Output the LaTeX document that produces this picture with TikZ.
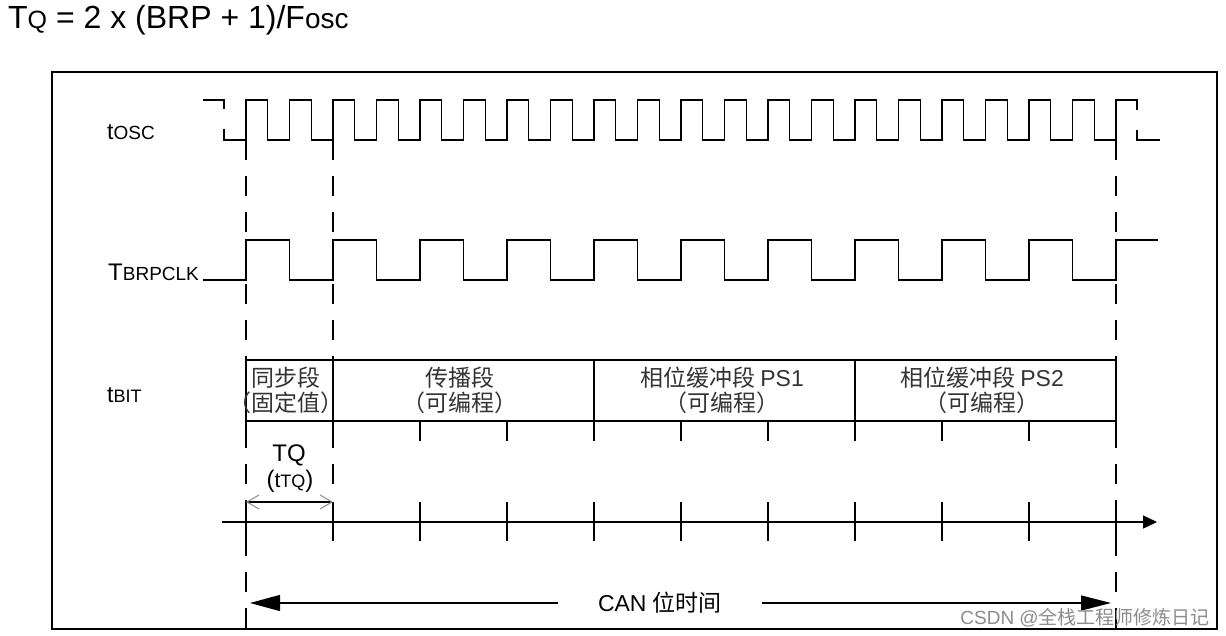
\documentclass[tikz,border=0pt]{standalone}
\usepackage{fontspec}
\setmainfont{Liberation Sans}
\newfontfamily\cjk{Noto Sans CJK SC}
\usetikzlibrary{arrows.meta}
\newcommand\fsz[1]{\fontsize{#1}{#1}\selectfont}
\begin{document}
\begin{tikzpicture}[x=1pt,y=-1pt,
  wave/.style={line width=1.4pt,line join=miter},
  thinl/.style={line width=1.3pt},
  dashl/.style={line width=1.4pt,dash pattern=on 20pt off 16pt},
  lbl/.style={anchor=base west,inner sep=0pt},
  cjkt/.style={font=\cjk\fsz{23},text=black!80,inner sep=0pt}]
\useasboundingbox (0,0) rectangle (1226,636);
\fill[white] (0,0) rectangle (1226,636);
% title
\node[lbl] (title) at (8,29) {\fsz{32}T\fsz{25}Q\fsz{32} = 2 x (BRP + 1)/F\fsz{28}osc};
% frame
\draw[line width=2.6pt] (52,72) rectangle (1217,629);
% labels
\node[lbl] (losc) at (107,140) {\fsz{23}t\fsz{19}OSC};
\node[lbl] (lbrp) at (108,280) {\fsz{24}T\fsz{19}BRPCLK};
\node[lbl] (lbit) at (107,402) {\fsz{23}t\fsz{18}BIT};
% tosc waveform
\draw[wave] (203,100) -- (224,100) -- (224,109);
\draw[wave] (224,129) -- (224,140) -- (246,140)
  \foreach \k in {0,...,19} { -- ++(0,-40) -- ++(21.75,0) -- ++(0,40) -- ++(21.75,0) }
  -- ++(0,-40) -- (1137,100) -- (1137,110);
\draw[wave] (1137,130) -- (1137,140) -- (1160,140);
% TBRPCLK waveform
\draw[wave] (203,280) -- (246,280)
  \foreach \k in {0,...,9} { -- ++(0,-40) -- ++(43.5,0) -- ++(0,40) -- ++(43.5,0) }
  -- ++(0,-40) -- (1158,240);
% dashed guide lines
\coordinate (g0) at (246,140);
\coordinate (g1) at (333,140);
\coordinate (g2) at (1116,140);
\draw[dashl] (g0) -- (246,628);
\draw[dashl] (g1) -- (333,500);
\draw[dashl] (g2) -- (1116,628);
% tBIT box
\draw[thinl] (246,360) rectangle (1116,421);
\foreach \x in {246,333,594,855,1116} \draw[thinl] (\x,360) -- (\x,441);
\foreach \x in {420,507,681,768,942,1029} \draw[thinl] (\x,421) -- (\x,441);
\node[cjkt] (s1a) at (286,378) {同步段};
\node[cjkt] (s1b) at (286,403) {（固定值）};
\node[cjkt] (s2a) at (460,378) {传播段};
\node[cjkt] (s2b) at (460,403) {（可编程）};
\node[cjkt] (s3a) at (722,378) {相位缓冲段 {\rmfamily PS1}};
\node[cjkt] (s3b) at (722,403) {（可编程）};
\node[cjkt] (s4a) at (982,378) {相位缓冲段 {\rmfamily PS2}};
\node[cjkt] (s4b) at (982,403) {（可编程）};
% time axis
\coordinate (a0) at (222,522);
\coordinate (a1) at (1157,522);
\draw[thinl,-{Triangle[length=14pt,width=13pt]}] (a0) -- (a1);
\foreach \k in {0,...,10} \draw[thinl] ({246+87*\k},502) -- ({246+87*\k},541);
% TQ dimension
\node[inner sep=0pt] (tq) at (289,455) {\fsz{24}TQ};
\node[inner sep=0pt] (ttq) at (290,481) {\fsz{24}(\fsz{21}t\fsz{18}TQ\fsz{24})};
\coordinate (d0) at (246,502);
\coordinate (d1) at (333,502);
\draw[line width=1.2pt,{Straight Barb[length=12pt,width=14pt,color=black!45,line width=1pt]}-{Straight Barb[length=12pt,width=14pt,color=black!45,line width=1pt]}] (d0) -- (d1);
% CAN bit time
\node[inner xsep=40pt,inner ysep=0pt] (can) at (660,603) {\fsz{23}CAN {\cjk 位时间}};
\coordinate (cl) at (250,603);
\coordinate (cr) at (1111,603);
\draw[thinl,-{Triangle[length=30pt,width=16pt]}] (can.west) -- (cl);
\draw[thinl,-{Triangle[length=30pt,width=15pt]}] (can.east) -- (cr);
% watermark
\node[anchor=base east,inner sep=0pt,text=black!45] (wm) at (1210,624) {\fsz{19}CSDN @{\cjk 全栈工程师修炼日记}};
\end{tikzpicture}
\end{document}
